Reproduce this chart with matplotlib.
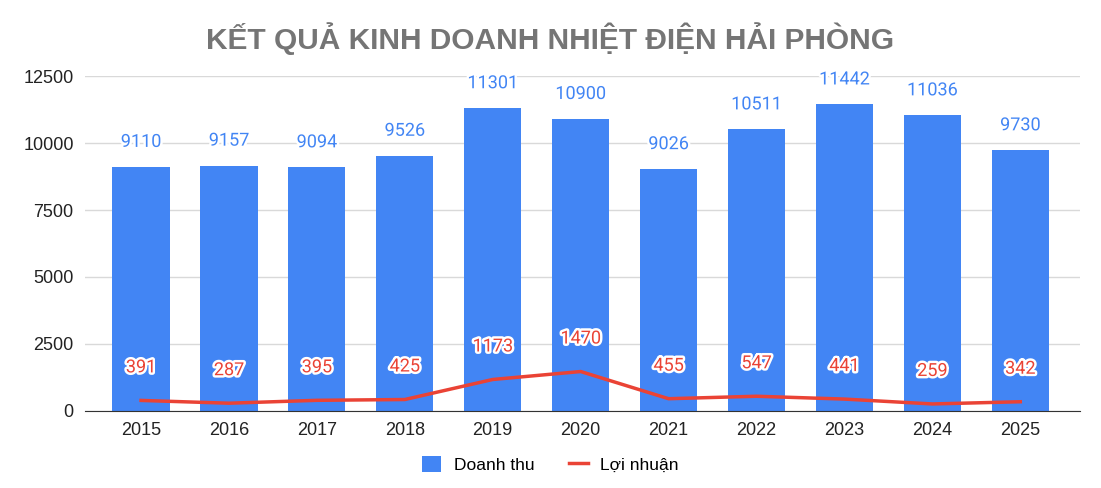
import numpy as np
import matplotlib.pyplot as plt
import matplotlib.patheffects as pe
from matplotlib.lines import Line2D
from matplotlib.patches import Patch

# Data
years = ['2015', '2016', '2017', '2018', '2019', '2020', '2021', '2022', '2023', '2024', '2025']
doanh_thu = [9110, 9157, 9094, 9526, 11301, 10900, 9026, 10511, 11442, 11036, 9730]
loi_nhuan = [391, 287, 395, 425, 1173, 1470, 455, 547, 441, 259, 342]
y_ticks = [0, 2500, 5000, 7500, 10000, 12500]

blue = '#4285F4'
red = '#EA4335'

plt.rcParams['font.family'] = ['Liberation Sans', 'DejaVu Sans']

fig = plt.figure(figsize=(11.01, 4.88), dpi=100)
ax = fig.add_axes([0.077, 0.158, 0.904, 0.686])

x = np.arange(len(years))
ax.bar(x, doanh_thu, width=0.65, color=blue, zorder=2)
ax.plot(x, loi_nhuan, color=red, linewidth=2.5, zorder=3)

halo = [pe.withStroke(linewidth=3.5, foreground='white')]
for xi, v in zip(x, doanh_thu):
    ax.annotate(str(v), (xi, v), xytext=(0, 25), textcoords='offset pixels',
                ha='center', va='center', fontsize=13, color=blue,
                family=['Roboto', 'DejaVu Sans'],
                path_effects=halo, zorder=4, annotation_clip=False)
for xi, v in zip(x, loi_nhuan):
    ax.annotate(str(v), (xi, v), xytext=(0, 33), textcoords='offset pixels',
                ha='center', va='center', fontsize=13, color=red,
                family=['Roboto', 'DejaVu Sans'],
                path_effects=halo, zorder=5, annotation_clip=False)

ax.set_xlim(-0.64, 10.68)
ax.set_ylim(0, 12500)
ax.set_yticks(y_ticks)
ax.set_xticks(x)
ax.set_xticklabels(years)
ax.tick_params(axis='both', length=0, labelsize=13, colors='#222222', pad=8)
ax.grid(axis='y', color='#d9d9d9', linewidth=1, zorder=0)
for side in ['top', 'right', 'left']:
    ax.spines[side].set_visible(False)
ax.spines['bottom'].set_color('#333333')
ax.spines['bottom'].set_zorder(3)

fig.suptitle('KẾT QUẢ KINH DOANH NHIỆT ĐIỆN HẢI PHÒNG', x=0.5, y=0.955,
             fontsize=21.5, fontweight='bold', color='#757575')

handles = [Patch(facecolor=blue, label='Doanh thu'),
           Line2D([0], [0], color=red, linewidth=2.5, label='Lợi nhuận')]
fig.legend(handles=handles, loc='center', bbox_to_anchor=(0.5, 0.048), ncol=2,
           frameon=False, fontsize=12.5, handlelength=1.1, handleheight=1.0,
           columnspacing=2.0, handletextpad=0.7)

fig.savefig('out.png', dpi=100, facecolor='white')
